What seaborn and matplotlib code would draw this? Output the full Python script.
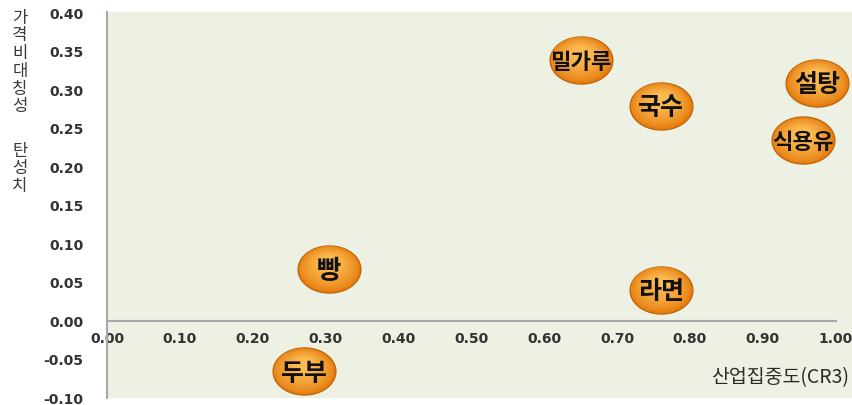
import numpy as np
import pandas as pd
import matplotlib
matplotlib.use("Agg")
import matplotlib.pyplot as plt
from matplotlib.path import Path
from matplotlib.colors import to_rgb
import seaborn as sns

# Data: industry concentration (CR3) vs. price asymmetry elasticity
items = ["밀가루", "국수", "설탕", "식용유", "빵", "라면", "두부"]
cr3 = [0.65, 0.76, 0.975, 0.955, 0.305, 0.76, 0.27]
asym = [0.34, 0.28, 0.31, 0.235, 0.068, 0.041, -0.065]

x_ticks = [0.0, 0.1, 0.2, 0.3, 0.4, 0.5, 0.6, 0.7, 0.8, 0.9, 1.0]
y_ticks = [-0.10, -0.05, 0.0, 0.05, 0.10, 0.15, 0.20, 0.25, 0.30, 0.35, 0.40]
x_title = "산업집중도(CR3)"
y_title_top = "가격비대칭성"
y_title_bottom = "탄성치"

df = pd.DataFrame({"item": items, "cr3": cr3, "asym": asym})

sns.set_theme(style="white")
plt.rcParams["font.family"] = ["Noto Sans CJK KR", "DejaVu Sans"]

W, H = 853, 405
fig = plt.figure(figsize=(W / 100, H / 100), dpi=100)
fig.patch.set_facecolor("white")
ax = fig.add_axes([107 / W, 7 / H, (W - 107) / W, 386 / H])
ax.set_facecolor("#EDF1E3")

ax.set_xlim(0, 1.024)
ax.set_ylim(-0.10, 0.402)

theta = np.linspace(0, 2 * np.pi, 90)


def bubble_layer(scale, dy):
    """Ellipse marker path, shrunk by `scale` and lifted by `dy`.

    A trailing lone MOVETO at (0.5, 0) keeps every layer on the same
    normalisation as the full-size ellipse.
    """
    ring = np.column_stack([0.5 * scale * np.cos(theta),
                            dy + 0.375 * scale * np.sin(theta)])
    verts = np.vstack([ring, ring[:1], [[0.5, 0.0]]])
    codes = ([Path.MOVETO] + [Path.LINETO] * (len(ring) - 1)
             + [Path.CLOSEPOLY] + [Path.MOVETO])
    return Path(verts, codes)


def mix(c1, c2, t):
    a, b = np.array(to_rgb(c1)), np.array(to_rgb(c2))
    return tuple(a + (b - a) * t)


base_s = 2050
n_layers = 14
outer, inner = "#E57D0E", "#FCBA50"

# Outer rim
sns.scatterplot(data=df, x="cr3", y="asym", marker=bubble_layer(1.0, 0.0),
                s=base_s, color=outer, edgecolor="#BE640C", linewidth=0.9,
                legend=False, ax=ax, zorder=3)
# Smooth gradient toward a lighter upper centre
for k in range(1, n_layers):
    t = k / (n_layers - 1)
    scale = 1.0 - 0.72 * t
    dy = 0.10 * t
    sns.scatterplot(data=df, x="cr3", y="asym",
                    marker=bubble_layer(scale, dy), s=base_s,
                    color=mix(outer, inner, t ** 0.7), edgecolor="none",
                    linewidth=0, legend=False, ax=ax, zorder=3 + 0.05 * k)

for name, xv, yv in zip(df["item"], df["cr3"], df["asym"]):
    fs = {1: 19, 2: 18}.get(len(name), 16)
    ax.text(xv, yv, name, ha="center", va="center_baseline", fontsize=fs,
            fontweight="bold", color="#111111", zorder=5)

# Axes: vertical axis at x=0, horizontal axis through y=0
for side in ["top", "right"]:
    ax.spines[side].set_visible(False)
ax.spines["left"].set_color("#A8A8A8")
ax.spines["left"].set_linewidth(1.5)
ax.spines["bottom"].set_position(("data", 0))
ax.spines["bottom"].set_bounds(0, 1.0)
ax.spines["bottom"].set_color("#A8A8A8")
ax.spines["bottom"].set_linewidth(1.5)

ax.set_xticks(x_ticks)
ax.set_xticklabels([f"{v:.2f}" for v in x_ticks])
ax.set_yticks(y_ticks)
ax.set_yticklabels([f"{v:.2f}" for v in y_ticks])
ax.tick_params(axis="both", length=0, labelcolor="#333333")
ax.tick_params(axis="y", pad=17)
ax.tick_params(axis="x", pad=8)
for lbl in ax.get_xticklabels() + ax.get_yticklabels():
    lbl.set_fontfamily("DejaVu Sans")
    lbl.set_fontweight("bold")
    lbl.set_fontsize(10)
ax.set_xlabel("")
ax.set_ylabel("")
ax.grid(False)

fig.text(849 / W, 1 - 378 / H, x_title, ha="right", va="center",
         fontsize=14, color="#2A2A2A")

for i, ch in enumerate(y_title_top):
    fig.text(20 / W, 1 - (18 + 17.8 * i) / H, ch, ha="center", va="center",
             fontsize=12, color="#3A3A3A")
for i, ch in enumerate(y_title_bottom):
    fig.text(20 / W, 1 - (151 + 17.8 * i) / H, ch, ha="center", va="center",
             fontsize=12, color="#3A3A3A")

fig.savefig("out.png", dpi=100, facecolor="white")
